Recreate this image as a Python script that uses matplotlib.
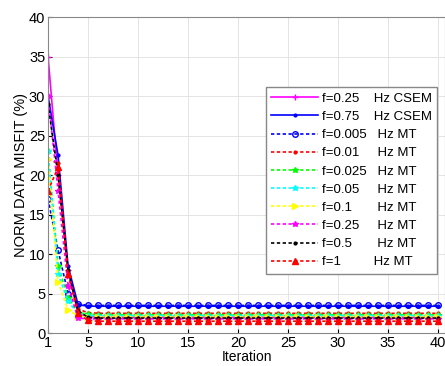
import matplotlib.pyplot as plt

plt.rcParams['font.family'] = ['Liberation Sans', 'DejaVu Sans']

iters = list(range(1, 41))

csem_025 = [35, 20, 8, 2.5, 2.1] + [2.0] * 35
csem_075 = [30, 22.5, 8.5, 3.6, 3.4] + [3.4] * 35
mt_0005 = [17, 10.5, 5.0, 3.7, 3.5] + [3.5] * 35
mt_001 = [22, 21.5, 7.5, 3.0, 2.6] + [2.5] * 35
mt_0025 = [23, 8.5, 4.5, 2.6, 2.4] + [2.3] * 35
mt_005 = [23, 7.5, 4.0, 2.5, 2.2] + [2.2] * 35
mt_01 = [22, 6.5, 2.9, 2.2, 2.0] + [2.0] * 35
mt_025 = [30, 18, 6.0, 1.9, 1.8] + [1.8] * 35
mt_05 = [29, 20, 8.0, 2.8, 2.0] + [1.9] * 35
mt_1 = [18, 21, 7.5, 2.5, 1.6] + [1.5] * 35

dot = (0, (2, 1.5))
series = [
    ('f=0.25    Hz CSEM', csem_025, 'magenta', '-', '+'),
    ('f=0.75    Hz CSEM', csem_075, 'blue', '-', '.'),
    ('f=0.005   Hz MT', mt_0005, 'blue', dot, 'o'),
    ('f=0.01     Hz MT', mt_001, 'red', dot, '.'),
    ('f=0.025   Hz MT', mt_0025, 'lime', dot, '*'),
    ('f=0.05     Hz MT', mt_005, 'cyan', dot, '*'),
    ('f=0.1       Hz MT', mt_01, 'yellow', dot, '>'),
    ('f=0.25     Hz MT', mt_025, 'magenta', dot, '*'),
    ('f=0.5       Hz MT', mt_05, 'black', dot, '.'),
    ('f=1         Hz MT', mt_1, 'red', dot, '^'),
]

fig = plt.figure(figsize=(4.45, 3.66), dpi=100)
ax = fig.add_axes([0.108, 0.090, 0.892, 0.863])

for lab, y, c, ls, mk in series:
    mfc = 'none' if mk == 'o' else c
    ax.plot(iters, y, color=c, linestyle=ls, marker=mk, markersize=4,
            markerfacecolor=mfc, linewidth=1.2, label=lab)

ax.set_xlim(1, 40.7)
ax.set_ylim(0, 40)
ax.set_xticks([1, 5, 10, 15, 20, 25, 30, 35, 40])
ax.set_yticks(range(0, 41, 5))
ax.tick_params(labelsize=10.5, direction='in', length=3, pad=2)
ax.grid(True, color='#e4e4e4', linewidth=0.7)
for s in ax.spines.values():
    s.set_color('#888888')
ax.set_xlabel('Iteration', fontsize=10, labelpad=0)
ax.set_ylabel('NORM DATA MISFIT (%)', fontsize=10.5, labelpad=1)

leg = ax.legend(loc='upper right', bbox_to_anchor=(0.98, 0.778), borderaxespad=0,
                fontsize=9.5, handlelength=3.6, labelspacing=0.45, fancybox=False,
                framealpha=1, edgecolor='#888888', handletextpad=0.25,
                borderpad=0.4)

fig.savefig('out.png', dpi=100)
